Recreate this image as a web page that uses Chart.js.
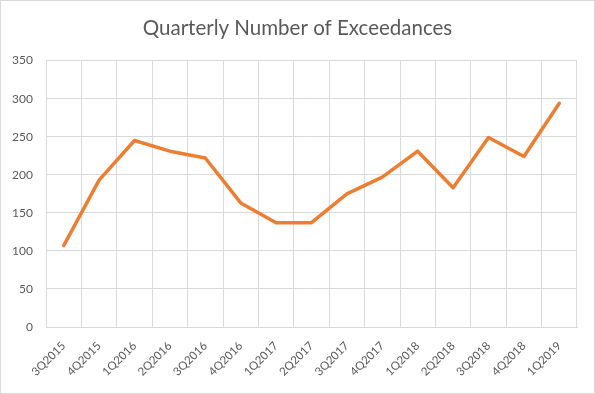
<!DOCTYPE html>
<html>
<head>
<meta charset="utf-8">
<script src="https://cdn.jsdelivr.net/npm/chart.js@4/dist/chart.umd.min.js"></script>
<style>
  html, body { margin: 0; padding: 0; background: #fff; }
  #wrap { width: 595px; height: 394px; box-sizing: border-box; border: 1px solid #d9d9d9; position: relative; }
</style>
</head>
<body>
<div id="wrap"><canvas id="exceedChart"></canvas></div>
<script>
const quarters = ['3Q2015', '4Q2015', '1Q2016', '2Q2016', '3Q2016', '4Q2016', '1Q2017', '2Q2017',
    '3Q2017', '4Q2017', '1Q2018', '2Q2018', '3Q2018', '4Q2018', '1Q2019'];
const exceedances = [107, 193, 245, 231, 222, 163, 137, 137, 175, 197, 231, 183, 249, 224, 294];
const yTicks = [0, 50, 100, 150, 200, 250, 300, 350];

const textColor = '#595959';
const gridColor = '#d9d9d9';

const ctx = document.getElementById('exceedChart').getContext('2d');
new Chart(ctx, {
    type: 'line',
    data: {
        labels: quarters,
        datasets: [{
            label: 'Exceedances',
            data: exceedances,
            borderColor: '#ed7d31',
            backgroundColor: '#ed7d31',
            borderWidth: 3.5,
            pointRadius: 0,
            tension: 0,
            borderCapStyle: 'round',
            borderJoinStyle: 'round'
        }]
    },
    options: {
        responsive: true,
        maintainAspectRatio: false,
        animation: false,
        layout: { padding: 0 },
        plugins: {
            legend: { display: false },
            tooltip: { enabled: false },
            title: {
                display: true,
                text: 'Quarterly Number of Exceedances',
                color: textColor,
                font: { family: 'Lato, "Open Sans", sans-serif', size: 20.5, weight: 'normal' },
                padding: { top: 15, bottom: 20 }
            }
        },
        scales: {
            x: {
                offset: true,
                grid: { offset: true, color: gridColor, lineWidth: 1, drawTicks: false },
                border: { display: true, color: gridColor },
                ticks: {
                    color: textColor,
                    font: { family: 'Lato, "Open Sans", sans-serif', size: 11.5 },
                    minRotation: 45,
                    maxRotation: 45,
                    autoSkip: false,
                    padding: 12
                },
                afterFit: scale => { scale.height = 66; }
            },
            y: {
                min: 0,
                max: 350,
                afterBuildTicks: scale => { scale.ticks = yTicks.map(v => ({ value: v })); },
                grid: { color: gridColor, lineWidth: 1, drawTicks: false },
                border: { display: false },
                ticks: {
                    color: textColor,
                    font: { family: 'Lato, "Open Sans", sans-serif', size: 12 },
                    padding: 13
                },
                afterFit: scale => { scale.width = 45; }
            },
            // empty right margin so the title centres on the whole chart
            yRight: {
                position: 'right',
                grid: { display: false },
                border: { display: false },
                ticks: { display: false },
                afterFit: scale => { scale.width = 17; }
            }
        }
    }
});
</script>
</body>
</html>
